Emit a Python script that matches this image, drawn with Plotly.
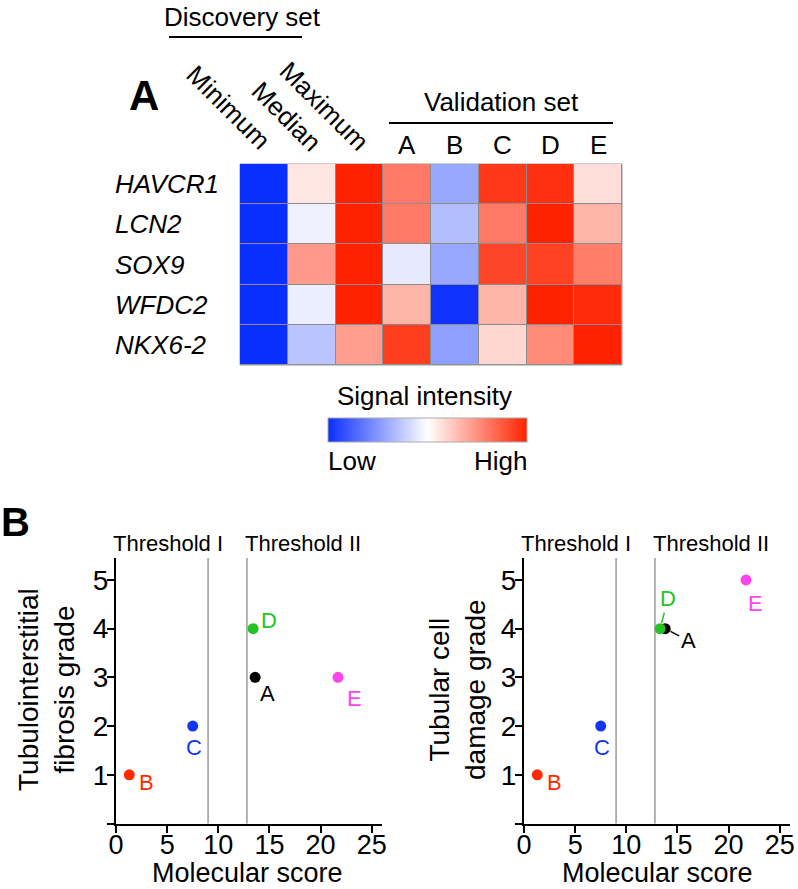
import plotly.graph_objects as go

# ---------------- data ----------------
genes = ["HAVCR1", "LCN2", "SOX9", "WFDC2", "NKX6-2"]
conditions = ["Minimum", "Median", "Maximum", "A", "B", "C", "D", "E"]
discovery_cols = ["Minimum", "Median", "Maximum"]
validation_cols = ["A", "B", "C", "D", "E"]

havcr1 = [0.0, 0.556, 1.0, 0.80, 0.29, 0.95, 0.97, 0.575]
lcn2 = [0.0, 0.467, 1.0, 0.80, 0.345, 0.80, 1.0, 0.67]
sox9 = [0.0, 0.73, 1.0, 0.45, 0.29, 0.92, 0.93, 0.79]
wfdc2 = [0.0, 0.46, 1.0, 0.67, 0.01, 0.67, 1.0, 0.98]
nkx62 = [0.0, 0.36, 0.72, 0.94, 0.27, 0.59, 0.765, 1.0]
heat_z = [havcr1, lcn2, sox9, wfdc2, nkx62]

samples = ["A", "B", "C", "D", "E"]
sample_colors = ["#000000", "#FF2A00", "#1236F0", "#22C322", "#FF44EE"]
fibrosis_score = [13.6, 1.3, 7.5, 13.4, 21.7]
fibrosis_grade = [3, 1, 2, 4, 3]
damage_score = [13.8, 1.3, 7.5, 13.3, 21.7]
damage_grade = [4, 1, 2, 4, 5]
thresholds = [9.0, 12.8]
threshold_names = ["Threshold I", "Threshold II"]
x_ticks = [0, 5, 10, 15, 20, 25]
y_ticks = [0, 1, 2, 3, 4, 5]
y_ticktext = ["", "1", "2", "3", "4", "5"]

# ---------------- layout helpers ----------------
W, H = 798, 889
FONT = "Liberation Sans, Arial, sans-serif"


def px(x):
    return x / W


def py(y):
    return 1 - y / H


def ann(**kw):
    d = dict(showarrow=False, xanchor="center", yanchor="middle")
    d.update(kw)
    return d


fig = go.Figure()

fig.add_trace(go.Heatmap(
    z=heat_z, x=conditions, y=genes, zmin=0, zmax=1,
    colorscale=[[0, "#0A2EFF"], [0.5, "#FFFFFF"], [1, "#FF2200"]],
    xgap=1, ygap=1, xaxis="x", yaxis="y", hoverinfo="skip",
    colorbar=dict(orientation="h", x=px(427.5), xanchor="center",
                  y=py(443), yanchor="bottom", len=199, lenmode="pixels",
                  thickness=24, thicknessmode="pixels", outlinewidth=1,
                  outlinecolor="#AAAAAA", showticklabels=False, ticks="",
                  xpad=0, ypad=0),
))

fig.add_trace(go.Scatter(
    x=fibrosis_score, y=fibrosis_grade, mode="markers", xaxis="x2", yaxis="y2",
    marker=dict(size=11, color=sample_colors), showlegend=False, hoverinfo="skip"))
fig.add_trace(go.Scatter(
    x=damage_score, y=damage_grade, mode="markers", xaxis="x3", yaxis="y3",
    marker=dict(size=11, color=sample_colors), showlegend=False, hoverinfo="skip"))

shapes = []
annotations = []

# heatmap gap background
shapes.append(dict(type="rect", xref="x domain", yref="y domain", x0=0, x1=1, y0=0, y1=1,
                   fillcolor="#8C8C8C", line=dict(color="#9A9A9A", width=1), layer="below"))

# group lines
shapes.append(dict(type="line", xref="paper", yref="paper", x0=px(169), x1=px(302),
                   y0=py(37), y1=py(37), line=dict(color="black", width=2)))
shapes.append(dict(type="line", xref="paper", yref="paper", x0=px(389), x1=px(613),
                   y0=py(123), y1=py(123), line=dict(color="black", width=2)))

annotations.append(ann(text="Discovery set", xref="paper", yref="paper", x=px(242), y=py(17),
                       font=dict(size=26)))
annotations.append(ann(text="Validation set", xref="paper", yref="paper", x=px(501), y=py(102),
                       font=dict(size=26)))
annotations.append(ann(text="<b>A</b>", xref="paper", yref="paper", x=px(144), y=py(96),
                       font=dict(size=42)))
annotations.append(ann(text="<b>B</b>", xref="paper", yref="paper", x=px(15), y=py(522),
                       font=dict(size=40)))

# rotated discovery labels
rot_centers = {"Minimum": (228, 107), "Median": (286, 116), "Maximum": (324, 106)}
for name in discovery_cols:
    cx, cy = rot_centers[name]
    annotations.append(ann(text=name, xref="paper", yref="paper", x=px(cx), y=py(cy),
                           textangle=45, font=dict(size=26)))
for name in validation_cols:
    annotations.append(ann(text=name, xref="x", yref="paper", x=name, y=py(145),
                           font=dict(size=26)))
for g in genes:
    annotations.append(ann(text="<i>%s</i>" % g, xref="paper", yref="y", x=px(113), y=g,
                           xanchor="left", font=dict(size=26)))

# colorbar labels
annotations.append(ann(text="Signal intensity", xref="paper", yref="paper", x=px(424), y=py(396),
                       font=dict(size=26)))
annotations.append(ann(text="Low", xref="paper", yref="paper", x=px(326), y=py(461),
                       xanchor="left", font=dict(size=26)))
annotations.append(ann(text="High", xref="paper", yref="paper", x=px(529), y=py(461),
                       xanchor="right", font=dict(size=26)))

# scatter panels
panels = [
    ("x2", "y2", fibrosis_score, fibrosis_grade, "Tubulointerstitial<br>fibrosis grade", 46, 247,
     {"A": (12, 16), "B": (17, 8), "C": (1, 21), "D": (16, -8), "E": (16, 21)}, {}),
    ("x3", "y3", damage_score, damage_grade, "Tubular cell<br>damage grade", 457, 657,
     {"B": (17, 8), "C": (1, 21), "E": (9, 24)}, {"D": (8, -30), "A": (23, 12)}),
]
for xa, ya, xs, ys, ytitle, ytx, xtx, offs, arrows in panels:
    for t, tname, tx in zip(thresholds, threshold_names, [5.1, 18.25]):
        shapes.append(dict(type="line", xref=xa, yref="%s domain" % ya, x0=t, x1=t, y0=0, y1=1,
                           line=dict(color="#8A8A8A", width=1.3)))
        annotations.append(ann(text=tname, xref=xa, yref="%s domain" % ya, x=tx, y=1,
                               yanchor="bottom", font=dict(size=22)))
    for s, c, xv, yv in zip(samples, sample_colors, xs, ys):
        if s in offs:
            dx, dy = offs[s]
            annotations.append(ann(text=s, xref=xa, yref=ya, x=xv, y=yv, xshift=dx, yshift=-dy,
                                   font=dict(size=22, color=c)))
        else:
            dx, dy = arrows[s]
            annotations.append(ann(text=s, xref=xa, yref=ya, x=xv, y=yv, ax=dx, ay=dy,
                                   showarrow=True, arrowhead=0, arrowwidth=1.5, arrowcolor=c,
                                   standoff=6, font=dict(size=22, color=c)))
    annotations.append(ann(text=ytitle, xref="paper", yref="paper", x=px(ytx), y=py(690),
                           textangle=-90, font=dict(size=28)))
    annotations.append(ann(text="Molecular score", xref="paper", yref="paper", x=px(xtx), y=0,
                           yanchor="bottom", borderpad=0, font=dict(size=27)))

sc_x = dict(range=[0, 26], tickvals=x_ticks, ticks="outside", ticklen=7, tickwidth=2,
            tickcolor="black", showline=True, linewidth=2, linecolor="black",
            showgrid=False, zeroline=False, tickfont=dict(size=27), fixedrange=True,
            ticklabelstandoff=-11)
sc_y = dict(range=[0, 5.45], tickvals=y_ticks, ticktext=y_ticktext, ticks="outside", ticklen=7,
            tickwidth=2, tickcolor="black", showline=True, linewidth=2, linecolor="black",
            showgrid=False, zeroline=False, tickfont=dict(size=28), fixedrange=True,
            ticklabelstandoff=-7)
sc_ydom = [py(823.5), py(558)]

fig.update_layout(
    width=W, height=H, margin=dict(l=0, r=0, t=0, b=0, autoexpand=False),
    paper_bgcolor="white", plot_bgcolor="white",
    font=dict(family=FONT, color="black"),
    showlegend=False,
    xaxis=dict(domain=[px(240), px(622)], showticklabels=False, ticks="", showgrid=False,
               zeroline=False, showline=False, fixedrange=True),
    yaxis=dict(domain=[py(365), py(164)], autorange="reversed", showticklabels=False, ticks="",
               showgrid=False, zeroline=False, showline=False, fixedrange=True),
    xaxis2=dict(domain=[px(116), px(382)], anchor="y2", **sc_x),
    yaxis2=dict(domain=sc_ydom, anchor="x2", **sc_y),
    xaxis3=dict(domain=[px(524), px(790)], anchor="y3", **sc_x),
    yaxis3=dict(domain=sc_ydom, anchor="x3", **sc_y),
    shapes=shapes, annotations=annotations,
)

fig.write_html("out.html", config={"displayModeBar": False},
               post_script="document.body.style.margin='0';document.body.style.padding='0';")
